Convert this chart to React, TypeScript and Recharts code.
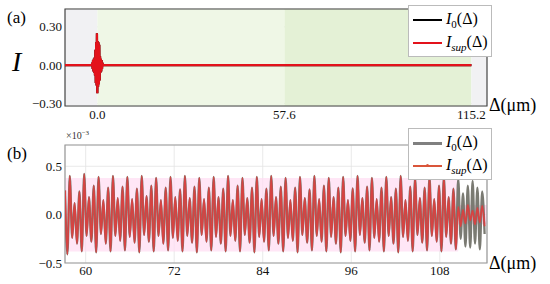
import React from 'react';
import { LineChart, Line, XAxis, YAxis, CartesianGrid, ReferenceArea } from 'recharts';

// panel (a): flat trace with a short burst around zero delay
const aEdges = [-10, -1.75, 1.65, 115.2];
const aBurstStart = -1.6;
const aBurstStep = 0.12;
const aBurst = [
  0.02, -0.03, 0.04, -0.05, 0.05, -0.06, 0.06, -0.08, 0.12, -0.14, 0.18, -0.16, 0.25, -0.22,
  0.19, -0.17, 0.18, -0.15, 0.16, -0.12, 0.07, -0.06, 0.05, -0.05, 0.04, -0.03, 0.02,
];
const aTicksX = [0, 57.6, 115.2];
const aTicksY = [-0.3, -0.15, 0, 0.15, 0.3];

// panel (b): zoomed trace (x10^-3), one value per extremum
const bStart = 57.2;
const bStep = 0.325;
const i0Extremes = [
  0.25, -0.41, 0.40, -0.24, 0.12, -0.30,
  0.24, -0.38, 0.42, -0.22, 0.18, -0.28,
  0.30, -0.39, 0.39, -0.20, 0.15, -0.30,
  0.28, -0.38, 0.40, -0.22, 0.17, -0.27,
  0.29, -0.37, 0.39, -0.23, 0.16, -0.29,
  0.27, -0.39, 0.40, -0.21, 0.19, -0.28,
  0.30, -0.38, 0.38, -0.22, 0.15, -0.30,
  0.28, -0.37, 0.39, -0.24, 0.18, -0.27,
  0.26, -0.38, 0.40, -0.22, 0.17, -0.29,
  0.29, -0.39, 0.38, -0.21, 0.16, -0.28,
  0.28, -0.37, 0.39, -0.23, 0.18, -0.30,
  0.27, -0.38, 0.40, -0.22, 0.15, -0.27,
  0.30, -0.38, 0.38, -0.21, 0.17, -0.29,
  0.28, -0.39, 0.39, -0.23, 0.16, -0.28,
  0.27, -0.37, 0.40, -0.22, 0.18, -0.30,
  0.29, -0.38, 0.38, -0.24, 0.15, -0.27,
  0.28, -0.39, 0.39, -0.21, 0.17, -0.29,
  0.26, -0.37, 0.40, -0.22, 0.16, -0.28,
  0.30, -0.38, 0.38, -0.23, 0.18, -0.30,
  0.28, -0.39, 0.39, -0.22, 0.15, -0.27,
  0.27, -0.38, 0.40, -0.21, 0.17, -0.29,
  0.29, -0.37, 0.38, -0.24, 0.16, -0.28,
  0.28, -0.38, 0.39, -0.22, 0.18, -0.30,
  0.27, -0.39, 0.40, -0.23, 0.15, -0.27,
  0.29, -0.38, 0.38, -0.21, 0.17, -0.29,
  0.28, -0.37, 0.39, -0.22, 0.16, -0.28,
  0.30, -0.38, 0.39, -0.23, 0.18, -0.30,
  0.27, -0.36, 0.37, -0.25, 0.22, -0.33,
  0.30, -0.34, 0.35, -0.30, 0.28, -0.36,
  0.24, -0.20,
];
// I_sup follows I_0 until ~110.5, then collapses to a small residual
const isupSplit = 164;
const isupTail = [0.08, -0.12, 0.05, -0.09, 0.10, -0.06, 0.04, -0.10, 0.07, -0.08, 0.09, -0.12];
const bTicksX = [60, 72, 84, 96, 108];
const bTicksY = [-0.5, 0, 0.5];

const aData = [
  { x: aEdges[0], i0: 0, isup: 0 },
  { x: aEdges[1], i0: 0, isup: 0 },
  ...aBurst.map((v, i) => ({ x: aBurstStart + i * aBurstStep, i0: v, isup: v })),
  { x: aEdges[2], i0: 0, isup: 0 },
  { x: aEdges[3], i0: 0, isup: 0 },
];

const isupExtremes = i0Extremes.slice(0, isupSplit).concat(isupTail);
const bData = i0Extremes.map((v, i) => ({ x: bStart + i * bStep, i0: v, isup: isupExtremes[i] }));

const serif = '"Liberation Serif", serif';
const minus = (s: string) => s.replace('-', '\u2212');
const tickStyle = { fill: '#111', fontSize: 13, fontFamily: serif };

function Sub({ children }: { children: React.ReactNode }) {
  return <span style={{ fontSize: 11, position: 'relative', top: 4 }}>{children}</span>;
}

function LegendBox({ top, items }: { top: number; items: { color: string; width: number; sub: string; dot?: boolean }[] }) {
  return (
    <div style={{ position: 'absolute', left: 408, top, width: 82, height: 50, background: '#fff', border: '1px solid #bbb', fontSize: 16 }}>
      {items.map((it, k) => (
        <div key={k} style={{ position: 'absolute', left: 0, top: 3 + k * 23, height: 22, width: 82 }}>
          <div style={{ position: 'absolute', left: 4, top: 10, width: 29, height: it.width, background: it.color }} />
          {it.dot && <div style={{ position: 'absolute', left: 17, top: 9, width: 3, height: 3, borderRadius: 2, background: it.color }} />}
          <div style={{ position: 'absolute', left: 37, top: 0, whiteSpace: 'nowrap', lineHeight: '20px' }}>
            <i>I</i><Sub>{it.sub === '0' ? '0' : <i>{it.sub}</i>}</Sub>(Δ)
          </div>
        </div>
      ))}
    </div>
  );
}

export default function App() {
  return (
    <div style={{ position: 'absolute', left: 0, top: 0, width: 550, height: 284, background: '#fff', overflow: 'hidden', fontFamily: serif }}>
      <div style={{ position: 'absolute', left: 0, top: 0 }}>
        <LineChart width={550} height={140} data={aData} margin={{ top: 9, right: 63, bottom: 14, left: 20 }} style={{ fontFamily: serif }}>
          <ReferenceArea x1={-10} x2={0} fill="#f1f1f3" fillOpacity={1} />
          <ReferenceArea x1={0} x2={57.6} fill="#eff7e6" fillOpacity={1} />
          <ReferenceArea x1={57.6} x2={115.2} fill="#e4f1d6" fillOpacity={1} />
          <ReferenceArea x1={115.2} x2={120} fill="#f1f1f3" fillOpacity={1} />
          <CartesianGrid vertical={false} stroke="#d8dcd4" strokeWidth={0.8} />
          <XAxis type="number" dataKey="x" domain={[-10, 120]} ticks={aTicksX} tickFormatter={(v: number) => v.toFixed(1)} tick={tickStyle} tickSize={0} tickMargin={4} axisLine={false} height={20} allowDataOverflow />
          <YAxis type="number" domain={[-0.32, 0.44]} ticks={aTicksY} tickFormatter={(v: number) => minus(v.toFixed(2))} tick={tickStyle} tickSize={0} tickMargin={3} axisLine={false} width={45} allowDataOverflow />
          <Line type="linear" dataKey="i0" stroke="#000" strokeWidth={2.2} dot={false} isAnimationActive={false} />
          <Line type="linear" dataKey="isup" stroke="#e3121b" strokeWidth={2.2} dot={false} isAnimationActive={false} />
          <ReferenceArea x1={-10} x2={120} y1={-0.32} y2={0.44} fill="none" stroke="#444" strokeWidth={1.2} />
        </LineChart>
      </div>

      <div style={{ position: 'absolute', left: 0, top: 128 }}>
        <LineChart width={550} height={156} data={bData} margin={{ top: 17, right: 63, bottom: 3, left: 20 }} style={{ fontFamily: serif }}>
          <ReferenceArea x1={57.2} x2={110.5} y1={-0.38} y2={0.38} fill="#ffdcf2" fillOpacity={0.7} />
          <ReferenceArea x1={110.5} x2={114.4} y1={-0.1} y2={0.1} fill="#ffc6e6" fillOpacity={0.7} />
          <CartesianGrid stroke="#e3e3e3" strokeWidth={0.8} />
          <XAxis type="number" dataKey="x" domain={[57.2, 114.4]} ticks={bTicksX} tick={tickStyle} tickSize={0} tickMargin={3} axisLine={false} height={18} allowDataOverflow />
          <YAxis type="number" domain={[-0.5, 0.72]} ticks={bTicksY} tickFormatter={(v: number) => minus(v.toFixed(1))} tick={tickStyle} tickSize={0} tickMargin={3} axisLine={false} width={45} allowDataOverflow />
          <Line type="monotone" dataKey="i0" stroke="#7a7a72" strokeWidth={2.3} dot={false} isAnimationActive={false} />
          <Line type="monotone" dataKey="isup" stroke="#e5393a" strokeWidth={1.8} strokeOpacity={0.85} dot={false} isAnimationActive={false} />
          <ReferenceArea x1={57.2} x2={114.4} y1={-0.5} y2={0.72} fill="none" stroke="#999" strokeWidth={1.2} />
        </LineChart>
      </div>

      <div style={{ position: 'absolute', left: 7, top: 8, fontSize: 17 }}>(a)</div>
      <div style={{ position: 'absolute', left: 7, top: 144, fontSize: 17 }}>(b)</div>
      <div style={{ position: 'absolute', left: 12, top: 46, fontSize: 28, fontStyle: 'italic' }}>I</div>
      <div style={{ position: 'absolute', left: 489, top: 95, fontSize: 18 }}>Δ(μm)</div>
      <div style={{ position: 'absolute', left: 489, top: 253, fontSize: 18 }}>Δ(μm)</div>
      <div style={{ position: 'absolute', left: 66, top: 129, fontSize: 10, color: '#333' }}>
        ×10<sup style={{ fontSize: 7 }}>−3</sup>
      </div>

      <LegendBox top={5} items={[{ color: '#000', width: 2, sub: '0' }, { color: '#e3121b', width: 2, sub: 'sup' }]} />
      <LegendBox top={128} items={[{ color: '#808080', width: 3, sub: '0' }, { color: '#d9553a', width: 2, sub: 'sup', dot: true }]} />
    </div>
  );
}
